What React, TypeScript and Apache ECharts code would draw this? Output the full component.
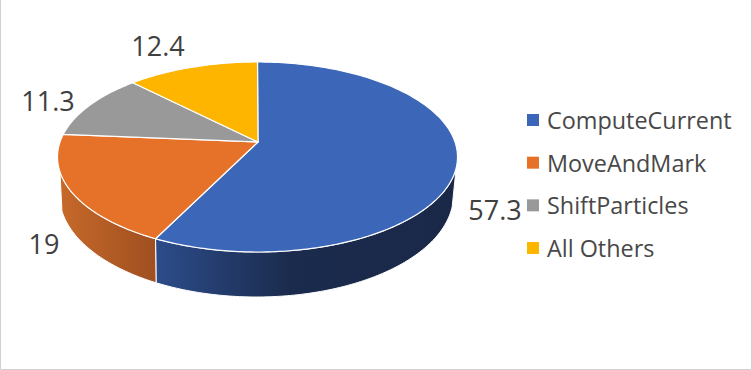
import React, { useEffect, useRef } from "react";
import * as echarts from "echarts";

const categories = ["ComputeCurrent", "MoveAndMark", "ShiftParticles", "All Others"];
const values = [57.3, 19, 11.3, 12.4];
const sliceColors = ["#3c66b8", "#e57228", "#999999", "#fdb500"];
const wallStops = [
  [[0, "#2c4c8a"], [0.45, "#1b2b4d"], [1, "#1a2848"]],
  [[0, "#c6692a"], [1, "#9f4f20"]],
  null,
  null,
];
const labelPositions = [[495, 209], [44, 243], [48, 100], [158, 45]];

const TOP = { cx: 257.5, cy: 157, rx: 200, ry: 95 };
const BOTTOM = { cx: 256.5, cy: 195, rx: 197, ry: 102 };
const APEX = [258, 142];
const WARP = -0.08;
const WALL_FROM = 96.6;
const WALL_TO = 261;

const rad = (d: number) => (d * Math.PI) / 180;

function warp(deg: number) {
  if (deg <= 0) return 0;
  if (deg >= 360) return 360;
  const re = Math.sin(rad(deg));
  const im = -Math.cos(rad(deg));
  const nr = re;
  const ni = im + WARP;
  const dr = 1 + WARP * im;
  const di = -WARP * re;
  const m = dr * dr + di * di;
  const u = (nr * dr + ni * di) / m;
  const v = (ni * dr - nr * di) / m;
  const phi = (Math.atan2(u, -v) * 180) / Math.PI;
  return phi < 0 ? phi + 360 : phi;
}

function onEllipse(e: typeof TOP, phi: number) {
  return [e.cx + e.rx * Math.sin(rad(phi)), e.cy - e.ry * Math.cos(rad(phi))];
}

function arcPoints(e: typeof TOP, from: number, to: number) {
  const n = Math.max(2, Math.ceil(Math.abs(to - from)));
  const pts: number[][] = [];
  for (let i = 0; i <= n; i++) pts.push(onEllipse(e, from + ((to - from) * i) / n));
  return pts;
}

function toPath(pts: number[][]) {
  return pts.map((p, i) => (i ? "L" : "M") + p[0].toFixed(2) + " " + p[1].toFixed(2)).join(" ") + " Z";
}

const total = values.reduce((a, b) => a + b, 0);

function makeSeries(index: number) {
  const before = values.slice(0, index).reduce((a, b) => a + b, 0);
  return {
    type: "custom",
    name: categories[index],
    coordinateSystem: "none",
    silent: true,
    itemStyle: { color: sliceColors[index] },
    data: [[values[index]]],
    renderItem: (_p: any, api: any) => {
      const v = api.value(0) as number;
      const phi0 = warp((before / total) * 360);
      const phi1 = warp(((before + v) / total) * 360);
      const children: any[] = [];
      const from = Math.max(phi0, WALL_FROM);
      const to = Math.min(phi1, WALL_TO);
      const stops = wallStops[index];
      if (to > from && stops) {
        const wall = [...arcPoints(TOP, from, to), ...arcPoints(BOTTOM, to, from)];
        children.push({
          type: "path",
          shape: { pathData: toPath(wall) },
          style: {
            fill: new echarts.graphic.LinearGradient(
              0, 0, 1, 0,
              stops.map((s: any) => ({ offset: s[0], color: s[1] })),
            ),
            stroke: "#ffffff",
            lineWidth: 1,
          },
        });
      }
      const top = [APEX, ...arcPoints(TOP, phi0, phi1)];
      children.push({
        type: "path",
        shape: { pathData: toPath(top) },
        style: { fill: sliceColors[index], stroke: "#ffffff", lineWidth: 1.2, lineJoin: "round" },
      });
      const lp = labelPositions[index];
      children.push({
        type: "text",
        x: lp[0],
        y: lp[1],
        style: {
          text: String(v),
          fill: "#404040",
          font: '27px "Open Sans", sans-serif',
          align: "center",
          verticalAlign: "middle",
        },
      });
      return { type: "group", children };
    },
  };
}

export default function App() {
  const ref = useRef<HTMLDivElement>(null);
  useEffect(() => {
    const chart = echarts.init(ref.current!, null, { renderer: "svg" });
    chart.setOption({
      animation: false,
      backgroundColor: "#ffffff",
      legend: {
        orient: "vertical",
        left: 522,
        top: 101,
        itemWidth: 12,
        itemHeight: 12,
        itemGap: 14.67,
        icon: "rect",
        data: categories,
        selectedMode: false,
        textStyle: {
          color: "#484848",
          fontSize: 23.4,
          fontFamily: '"Open Sans", sans-serif',
          lineHeight: 28,
          padding: [0, 0, 0, 3],
        },
      },
      graphic: [
        {
          type: "polyline",
          silent: true,
          shape: { points: [[0.5, 0], [0.5, 369.5], [751.5, 369.5], [751.5, 0]] },
          style: { stroke: "#d0d0d0", fill: "none", lineWidth: 1 },
        },
      ],
      series: categories.map((_, i) => makeSeries(i)),
    });
    return () => chart.dispose();
  }, []);
  return <div ref={ref} style={{ position: "absolute", left: 0, top: 0, width: 752, height: 370 }} />;
}
